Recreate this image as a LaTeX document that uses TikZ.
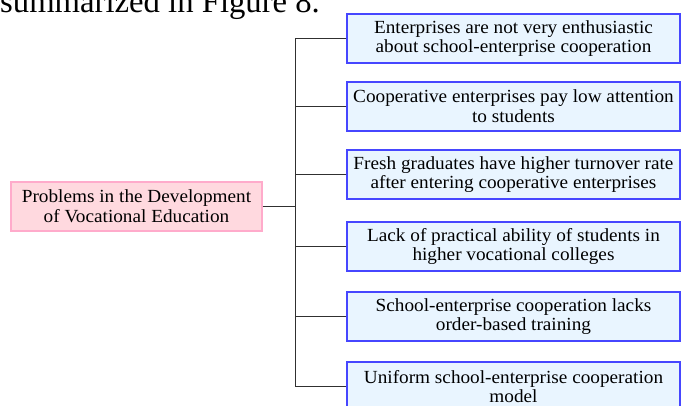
\documentclass[tikz,border=0pt]{standalone}
\usepackage{fontspec}
\setmainfont{Liberation Serif}
\newfontfamily\boxfont[FakeStretch=1.04]{Liberation Serif}
\definecolor{pinkfill}{HTML}{FFD9DF}
\definecolor{pinkline}{HTML}{FFABCB}
\definecolor{bluefill}{HTML}{E9F5FF}
\definecolor{blueline}{HTML}{4646FF}
\definecolor{conn}{HTML}{303030}
\tikzset{
  probbox/.style={draw=blueline, fill=bluefill, line width=1.3pt, minimum width=333pt, minimum height=49pt, inner sep=1pt, align=center, font=\boxfont\fontsize{18.5}{19.8}\selectfont},
  mainbox/.style={draw=pinkline, fill=pinkfill, line width=1.1pt, minimum width=251pt, minimum height=49pt, inner sep=1pt, align=center, font=\boxfont\fontsize{18.5}{19.8}\selectfont},
  connline/.style={draw=conn, line width=1pt}
}
\begin{document}
\begin{tikzpicture}[x=1pt, y=-1pt]
\useasboundingbox (0,0) rectangle (681,405);
\clip (0,0) rectangle (681,405);
\node[anchor=base west, inner sep=0pt, font=\fontsize{32.7}{34}\selectfont] (cap) at (0,12.5) {summarized in Figure 8.};
\node[mainbox] (main) at (136.5,206.5) {Problems in the Development\\of Vocational Education};
\node[probbox] (b1) at (513.5,38.5) {Enterprises are not very enthusiastic\\about school-enterprise cooperation};
\node[probbox] (b2) at (513.5,106.5) {Cooperative enterprises pay low attention\\to students};
\node[probbox] (b3) at (513.5,174.5) {Fresh graduates have higher turnover rate\\after entering cooperative enterprises};
\node[probbox] (b4) at (513.5,246.5) {Lack of practical ability of students in\\higher vocational colleges};
\node[probbox] (b5) at (513.5,316.5) {School-enterprise cooperation lacks\\order-based training};
\node[probbox] (b6) at (513.5,386.5) {Uniform school-enterprise cooperation\\model};
\coordinate (sx) at (295,0);
\draw[connline] (b1.west) -- (b1.west -| sx) -- (b6.west -| sx) -- (b6.west);
\foreach \b in {b2,b3,b4,b5} \draw[connline] (\b.west) -- (\b.west -| sx);
\draw[connline] (main.east) -- (main.east -| sx);
\end{tikzpicture}
\end{document}
